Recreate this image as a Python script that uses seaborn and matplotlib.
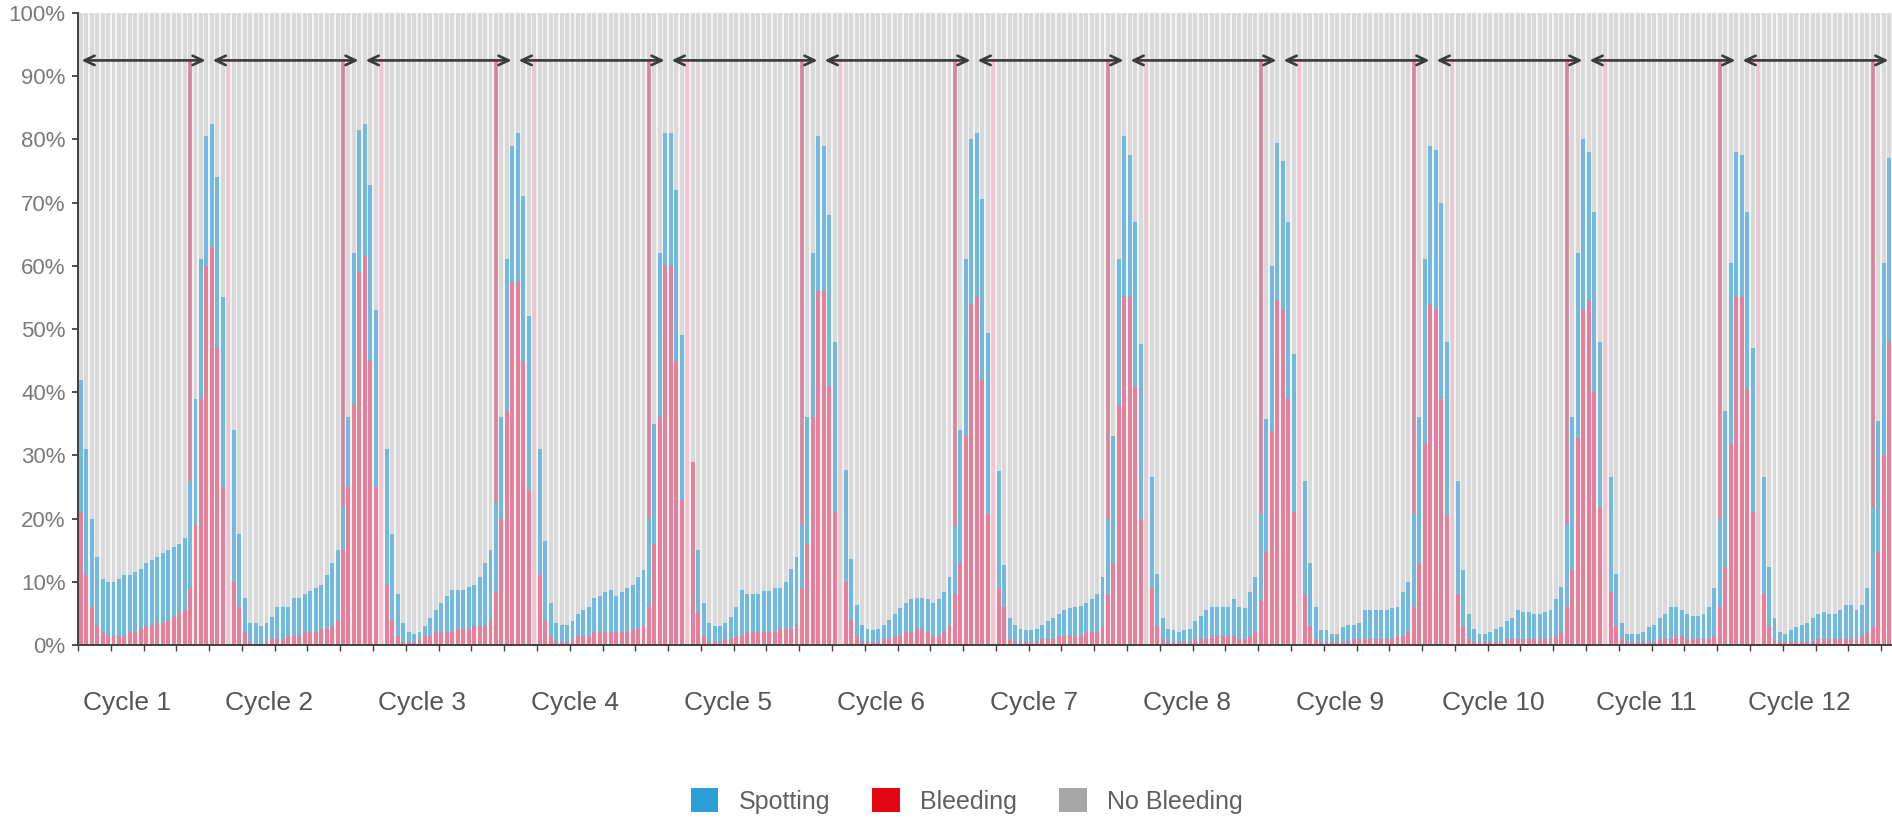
import numpy as np
import pandas as pd
import matplotlib
matplotlib.use("Agg")
import matplotlib.pyplot as plt
from matplotlib.patches import Patch
from matplotlib import font_manager as fm
import matplotlib.transforms as mtransforms
import seaborn as sns

# ---------------- data (percent of women per day) ----------------
cycle_labels = ["Cycle 1", "Cycle 2", "Cycle 3", "Cycle 4", "Cycle 5", "Cycle 6",
                "Cycle 7", "Cycle 8", "Cycle 9", "Cycle 10", "Cycle 11", "Cycle 12"]
first_day_cycle1 = 5
days_per_cycle = 28

# total = bleeding + spotting ; cycle 1 starts at day 5
total_c1 = [42, 31, 20, 14, 10.5, 10, 10, 10.5, 11, 11, 11.5, 12, 13, 13.5, 14, 14.5, 15, 15.5, 16, 17, 26, 39, 61, 80.5]
bleed_c1 = [21, 11, 6, 3, 2, 1.5, 1.5, 1.5, 1.5, 2, 2, 2.5, 3, 3, 3.5, 3.5, 4, 4.5, 5, 5.5, 9, 19, 39, 60]
total_c2 = [82.5, 74, 55, 0, 34, 17.5, 7.5, 3.5, 3.5, 3, 3.5, 4.5, 6, 6, 6, 7.5, 7.5, 8, 8.5, 9, 9.5, 11, 13, 15, 22, 36, 62, 81.5]
bleed_c2 = [63, 47, 25, 0, 10, 6, 2, 0.5, 0, 0, 0.5, 1, 1, 1, 1.5, 1.5, 1.5, 2, 2, 2, 2.5, 2.5, 3, 4, 15, 25, 38, 59]
total_c3 = [82.4, 72.8, 53, 0, 31, 17.6, 8, 3.5, 2, 1.7, 2, 3, 4.3, 5.5, 6.6, 7.8, 8.7, 8.7, 8.7, 9.2, 9.5, 10.7, 13, 15, 22.5, 36, 61, 79]
bleed_c3 = [61.6, 45, 25, 0, 9.5, 4, 1.5, 0.5, 0.5, 0.5, 1, 1.5, 1.5, 2, 2, 2, 2, 2.5, 2.5, 2.5, 3, 3, 3, 4, 8.4, 20, 37, 57.5]
total_c4 = [81, 71, 52, 0, 31, 16.5, 6.6, 3.5, 3.2, 3.2, 3.8, 4.9, 5.5, 6, 7.5, 7.8, 8.4, 8.7, 7.8, 8.4, 9, 9.5, 10.7, 11.8, 20, 35, 62, 81]
bleed_c4 = [57.5, 45, 24.6, 0, 11, 4, 1.5, 0.5, 0.5, 0.5, 1, 1.5, 1.5, 1.5, 2, 2, 2, 2, 2, 2, 2, 2.5, 2.5, 3, 6, 16, 36, 60]
total_c5 = [81, 72, 49, 0, 29, 15, 6.6, 3.5, 3, 3, 3.5, 4.5, 6, 8.7, 8, 8, 8, 8.5, 8.5, 9, 9, 10, 12, 14, 19, 36, 62, 80.5]
bleed_c5 = [60, 45, 23, 0, 29, 5, 1.5, 0.5, 0.5, 0.5, 1, 1, 1.5, 1.5, 2, 2, 2, 2, 2, 2, 2.5, 2.5, 2.5, 3, 9, 16, 36, 56]
total_c6 = [79, 68, 48, 0, 27.7, 13.6, 6.4, 3.2, 2.6, 2.3, 2.6, 3.2, 4, 4.9, 5.8, 6.6, 7.2, 7.5, 7.5, 7.2, 6.6, 7.2, 8.4, 10.7, 18.8, 34, 61, 80]
bleed_c6 = [56, 41, 21, 0, 10, 4, 1.5, 0.5, 0.5, 0.5, 0.5, 1, 1, 1.5, 1.5, 2, 2, 2.5, 2.5, 2, 1.5, 1.5, 2, 3, 8, 13, 33, 54]
total_c7 = [81, 70.5, 49.4, 0, 27.5, 12.7, 4.3, 3.2, 2.6, 2.3, 2.3, 2.6, 3.2, 3.8, 4.3, 4.9, 5.5, 5.8, 6, 6.2, 6.6, 7.2, 8, 10.7, 20, 33, 61, 80.6]
bleed_c7 = [55, 42, 20.8, 0, 9, 6, 1, 0.5, 0.5, 0.5, 0.5, 0.5, 1, 1, 1, 1.5, 1.5, 1.5, 1.5, 1.5, 2, 2, 2, 3, 8, 13, 38, 55]
total_c8 = [77.5, 67, 47.7, 0, 26.6, 11.3, 4.3, 2.6, 2.3, 2, 2.3, 2.5, 3.8, 4.6, 5.5, 6, 6, 6, 6, 7.2, 6, 5.8, 8.4, 10.7, 20.8, 35.8, 60, 79.5]
bleed_c8 = [55, 41, 20, 0, 9, 3, 1, 0.5, 0.5, 0.5, 0.5, 0.5, 1, 1, 1, 1.5, 1.5, 1.5, 1.5, 1.5, 1, 1, 1.5, 2, 7, 14.7, 33.8, 54.6]
total_c9 = [76.6, 67, 46, 0, 26, 13, 6, 2.3, 2.3, 1.7, 1.7, 2.9, 3.2, 3.2, 3.5, 5.5, 5.5, 5.5, 5.5, 5.5, 5.8, 6, 8.4, 10, 20.8, 36, 61, 79]
bleed_c9 = [53, 39, 21, 0, 8, 3, 1, 0.5, 0.5, 0.5, 0.5, 0.5, 0.5, 1, 1, 1, 1, 1, 1, 1, 1, 1.5, 1.5, 2, 6, 13, 31.8, 54]
total_c10 = [78.3, 70, 48, 0, 26, 11.8, 4.9, 2.6, 1.7, 1.7, 2, 2.6, 2.9, 3.8, 4.3, 5.5, 5.2, 5.2, 4.9, 4.9, 5.2, 5.5, 7.2, 9.2, 19, 36, 62, 80]
bleed_c10 = [53, 39, 20.5, 0, 8, 3, 1, 0.5, 0.5, 0.5, 0.5, 0.5, 0.5, 1, 1, 1, 1, 1, 1, 1, 1, 1, 1.5, 2, 6, 11.8, 32.7, 53]
total_c11 = [78, 68.5, 48, 0, 26.6, 11.3, 3.5, 1.7, 1.7, 1.7, 2, 2.9, 3.2, 4.3, 4.9, 6, 6, 5.5, 4.9, 4.6, 4.6, 4.9, 6, 9, 20, 37, 60.4, 78]
bleed_c11 = [54.6, 40, 21.7, 0, 8.4, 3, 1, 0.5, 0.5, 0.5, 0.5, 0.5, 0.5, 1, 1, 1, 1.5, 1.5, 1, 1, 1, 1, 1, 1.5, 6, 12.4, 31.8, 55]
total_c12 = [77.5, 68.5, 47, 0, 26.6, 12.4, 4.3, 2, 1.7, 2.3, 2.9, 3.2, 3.5, 4.3, 4.9, 5.2, 4.9, 4.9, 5.5, 6.4, 6.4, 5.5, 6.4, 9, 21.7, 35.5, 60.4, 77]
bleed_c12 = [55, 40.5, 21, 0, 8, 3, 1, 0.5, 0.5, 0.5, 0.5, 0.5, 0.5, 0.5, 1, 1, 1, 1, 1, 1, 1, 1, 1.5, 2, 3, 14.7, 30, 48]

legend_labels = ["Spotting", "Bleeding", "No Bleeding"]

totals = [total_c1, total_c2, total_c3, total_c4, total_c5, total_c6,
          total_c7, total_c8, total_c9, total_c10, total_c11, total_c12]
bleeds = [bleed_c1, bleed_c2, bleed_c3, bleed_c4, bleed_c5, bleed_c6,
          bleed_c7, bleed_c8, bleed_c9, bleed_c10, bleed_c11, bleed_c12]

rows = []
for ci, (tt, bb) in enumerate(zip(totals, bleeds)):
    start_day = first_day_cycle1 if ci == 0 else 1
    for j, (t, b) in enumerate(zip(tt, bb)):
        rows.append({"cycle": ci + 1, "day": start_day + j, "total": t, "bleed": b})
df = pd.DataFrame(rows)
df["pos"] = np.arange(len(df))
df["all"] = 100.0
n = len(df)

# ---------------- style ----------------
sns.set_theme(style="white")
avail = {f.name for f in fm.fontManager.ttflist}
fam = [f for f in ["Liberation Sans Narrow", "Liberation Sans", "DejaVu Sans"] if f in avail]
plt.rcParams["font.family"] = fam

GRAY = "#d9d9d9"
BLUE = "#72badd"
PINK = "#e57f9a"
DARK_PINK = "#d8849b"
LIGHT_PINK = "#f3c3cf"
AX_COL = "#404040"

fig = plt.figure(figsize=(18.92, 8.26), dpi=100)
ax = fig.add_axes([78 / 1892, (826 - 645) / 826, (1892 - 78) / 1892, (645 - 13) / 826])
ax.set_facecolor("#f3f3f3")

bw = 0.72
sns.barplot(data=df, x="pos", y="all", native_scale=True, color=GRAY, width=bw,
            saturation=1, linewidth=0, errorbar=None, ax=ax, zorder=1)

# cycle boundaries (between day 28 and day 1)
cyc_start = [-0.5] + [df.index[(df.cycle == c) & (df.day == 1)][0] - 0.5 for c in range(2, 13)]
cyc_end = cyc_start[1:] + [n - 0.5]

# dark pink markers at day 25, light pink at day 4
d25 = df.loc[df.day == 25, "pos"].to_numpy()
d4 = df.loc[df.day == 4, "pos"].to_numpy()
ax.vlines(d25, 0, 92.5, color=DARK_PINK, lw=2.6, zorder=1.5)

sns.barplot(data=df, x="pos", y="total", native_scale=True, color=BLUE, width=bw,
            saturation=1, linewidth=0, errorbar=None, ax=ax, zorder=2)
sns.barplot(data=df, x="pos", y="bleed", native_scale=True, color=PINK, width=bw,
            saturation=1, linewidth=0, errorbar=None, ax=ax, zorder=3)

ax.vlines(d4, 0, 92.5, color=LIGHT_PINK, lw=2.4, zorder=4)

# arrows spanning each cycle
for s, e in zip(cyc_start, cyc_end):
    ax.annotate("", xy=(e, 92.5), xytext=(s, 92.5),
                arrowprops=dict(arrowstyle="<->,head_length=0.6,head_width=0.28",
                                color="#3a3a3a", lw=1.9, shrinkA=2.5, shrinkB=2.5),
                zorder=5, annotation_clip=False)

# axes
ax.set_xlim(-0.5, n - 0.5)
ax.set_ylim(0, 100)
ax.set_yticks(np.arange(0, 101, 10))
ax.set_yticklabels([f"{v}%" for v in range(0, 101, 10)])
ax.set_xticks(np.arange(-0.5, n, 6))
ax.set_xticklabels([])
ax.set_xlabel("")
ax.set_ylabel("")
for side in ["top", "right"]:
    ax.spines[side].set_visible(False)
for side in ["left", "bottom"]:
    ax.spines[side].set_visible(True)
    ax.spines[side].set_color(AX_COL)
    ax.spines[side].set_linewidth(1.4)
    ax.spines[side].set_zorder(6)
ax.tick_params(axis="y", left=True, length=4, width=1.3, color=AX_COL,
               labelsize=16, labelcolor="#7a7a7a", pad=5)
ax.tick_params(axis="x", bottom=True, length=4, width=1.0, color=AX_COL)
ax.grid(False)

# cycle labels
trans = mtransforms.blended_transform_factory(ax.transData, ax.transAxes)
for lab, s, e in zip(cycle_labels, cyc_start, cyc_end):
    ax.text((s + e) / 2 - 3, -0.092, lab, transform=trans, ha="center", va="center",
            fontsize=19, color="#555555")

# legend
handles = [Patch(facecolor=c, edgecolor="none") for c in ["#2b9ed8", "#e30613", "#a6a6a6"]]
fig.legend(handles, legend_labels, loc="center", bbox_to_anchor=(0.511, 0.03), ncol=3,
           frameon=False, fontsize=18, handlelength=1.1, handleheight=1.1,
           handletextpad=0.8, columnspacing=1.7, labelcolor="#606060")

fig.savefig("out.png", dpi=100, facecolor="white")
